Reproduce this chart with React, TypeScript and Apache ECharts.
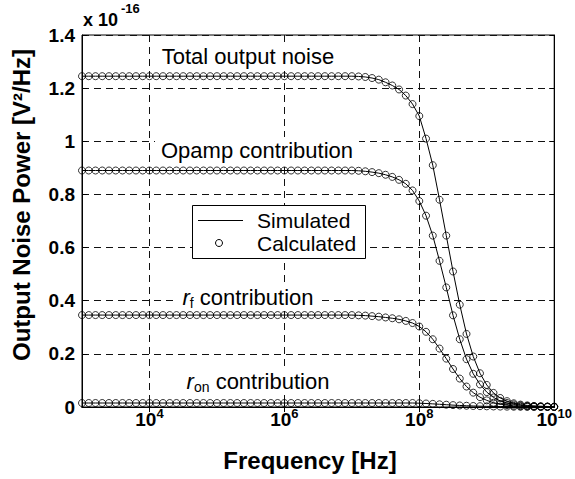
import React, { useEffect, useRef } from 'react';
import * as echarts from 'echarts';

const FONT = '"Liberation Sans", Arial, Helvetica, sans-serif';

// log10 of frequency (Hz) at each calculated point
const freqExponents = [
  3.0, 3.1, 3.2, 3.3, 3.4, 3.5, 3.6, 3.7, 3.8, 3.9,
  4.0, 4.1, 4.2, 4.3, 4.4, 4.5, 4.6, 4.7, 4.8, 4.9,
  5.0, 5.1, 5.2, 5.3, 5.4, 5.5, 5.6, 5.7, 5.8, 5.9,
  6.0, 6.1, 6.2, 6.3, 6.4, 6.5, 6.6, 6.7, 6.8, 6.9,
  7.0, 7.1, 7.2, 7.3, 7.4, 7.5, 7.6, 7.7, 7.8, 7.9,
  8.0, 8.1, 8.2, 8.3, 8.4, 8.5, 8.6, 8.7, 8.8, 8.9,
  9.0, 9.1, 9.2, 9.3, 9.4, 9.5, 9.6, 9.7, 9.8, 9.9,
  10.0,
];

// Output noise power, units of 1e-16 V^2/Hz
const totalNoise = [
  1.245, 1.245, 1.245, 1.245, 1.245, 1.245, 1.245, 1.245, 1.245, 1.245,
  1.245, 1.245, 1.245, 1.245, 1.245, 1.245, 1.245, 1.245, 1.245, 1.245,
  1.245, 1.245, 1.245, 1.245, 1.245, 1.245, 1.245, 1.245, 1.245, 1.245,
  1.245, 1.245, 1.245, 1.245, 1.245, 1.245, 1.245, 1.245, 1.245, 1.245,
  1.245, 1.244, 1.242, 1.238, 1.232, 1.222, 1.21, 1.195, 1.172, 1.14,
  1.095, 1.01, 0.91, 0.78, 0.645, 0.51, 0.385, 0.275, 0.19, 0.127,
  0.083, 0.053, 0.034, 0.022, 0.014, 0.009, 0.006, 0.004, 0.003, 0.002,
  0.0015,
];

const opampNoise = [
  0.89, 0.89, 0.89, 0.89, 0.89, 0.89, 0.89, 0.89, 0.89, 0.89,
  0.89, 0.89, 0.89, 0.89, 0.89, 0.89, 0.89, 0.89, 0.89, 0.89,
  0.89, 0.89, 0.89, 0.89, 0.89, 0.89, 0.89, 0.89, 0.89, 0.89,
  0.89, 0.89, 0.89, 0.89, 0.89, 0.89, 0.89, 0.89, 0.89, 0.89,
  0.89, 0.889, 0.887, 0.884, 0.88, 0.874, 0.866, 0.855, 0.84, 0.815,
  0.775, 0.72, 0.645, 0.55, 0.45, 0.345, 0.255, 0.18, 0.125, 0.085,
  0.056, 0.036, 0.023, 0.015, 0.0095, 0.006, 0.004, 0.0026, 0.0017, 0.0011,
  0.0007,
];

const rfNoise = [
  0.346, 0.346, 0.346, 0.346, 0.346, 0.346, 0.346, 0.346, 0.346, 0.346,
  0.346, 0.346, 0.346, 0.346, 0.346, 0.346, 0.346, 0.346, 0.346, 0.346,
  0.346, 0.346, 0.346, 0.346, 0.346, 0.346, 0.346, 0.346, 0.346, 0.346,
  0.346, 0.346, 0.346, 0.346, 0.346, 0.346, 0.346, 0.346, 0.346, 0.346,
  0.346, 0.345, 0.344, 0.342, 0.34, 0.337, 0.334, 0.33, 0.324, 0.316,
  0.303, 0.283, 0.255, 0.22, 0.182, 0.143, 0.107, 0.077, 0.054, 0.037,
  0.025, 0.016, 0.011, 0.007, 0.0045, 0.003, 0.002, 0.0013, 0.0008, 0.0005,
  0.0003,
];

const ronNoise = [
  0.015, 0.015, 0.015, 0.015, 0.015, 0.015, 0.015, 0.015, 0.015, 0.015,
  0.015, 0.015, 0.015, 0.015, 0.015, 0.015, 0.015, 0.015, 0.015, 0.015,
  0.015, 0.015, 0.015, 0.015, 0.015, 0.015, 0.015, 0.015, 0.015, 0.015,
  0.015, 0.015, 0.015, 0.015, 0.015, 0.015, 0.015, 0.015, 0.015, 0.015,
  0.015, 0.015, 0.015, 0.015, 0.015, 0.015, 0.015, 0.015, 0.015, 0.015,
  0.0143, 0.0132, 0.0118, 0.0102, 0.0086, 0.0071, 0.0058, 0.0047, 0.0038, 0.0031,
  0.0025, 0.002, 0.0016, 0.0013, 0.001, 0.0008, 0.0006, 0.0005, 0.0004, 0.0003,
  0.0002,
];

const xTickExponents = [4, 6, 8, 10];
const xInnerTopTicks = [4, 6, 8];

export default function App() {
  const ref = useRef<HTMLDivElement>(null);

  useEffect(() => {
    if (!ref.current) return;
    const chart = echarts.init(ref.current, null, { renderer: 'svg' });

    const curves = [totalNoise, opampNoise, rfNoise, ronNoise];
    const series: any[] = [];
    curves.forEach((vals, k) => {
      const data = freqExponents.map((e, i) => [e, vals[i]]);
      series.push({
        type: 'line',
        name: 'Simulated',
        id: 'sim' + k,
        data,
        symbol: 'none',
        showSymbol: false,
        lineStyle: { color: '#000', width: 1 },
        silent: true,
        z: 3,
      });
      series.push({
        type: 'scatter',
        name: 'Calculated',
        id: 'calc' + k,
        data,
        symbol: 'circle',
        symbolSize: 7,
        itemStyle: { color: 'rgba(0,0,0,0)', borderColor: '#000', borderWidth: 1 },
        z: 4,
      });
    });

    const textBase = {
      fontFamily: FONT,
      fontSize: 22,
      fill: '#000',
    };

    const richSub = {
      i: { fontSize: 22, fontStyle: 'italic', fontFamily: FONT, fill: '#000', lineHeight: 26, verticalAlign: 'middle' },
      sub: { fontSize: 14, fontFamily: FONT, fill: '#000', lineHeight: 10, verticalAlign: 'bottom' },
      n: { fontSize: 22, fontFamily: FONT, fill: '#000', lineHeight: 26, verticalAlign: 'middle' },
    };

    const option: any = {
      animation: false,
      backgroundColor: '#fff',
      textStyle: { fontFamily: FONT },
      grid: {
        left: 82,
        top: 35,
        right: 17,
        bottom: 72,
        show: true,
        borderColor: '#000',
        borderWidth: 1,
        backgroundColor: 'transparent',
      },
      xAxis: [
        {
          type: 'value',
          min: 3,
          max: 10,
          interval: 1,
          position: 'bottom',
          axisLine: { show: true, lineStyle: { color: '#000', width: 1 } },
          axisTick: {
            show: true,
            inside: true,
            length: 5,
            customValues: xTickExponents,
            lineStyle: { color: '#000' },
          },
          axisLabel: {
            show: true,
            customValues: xTickExponents,
            margin: 0,
            formatter: (v: number) => `{b|10}{s|${v}}`,
            rich: {
              b: {
                fontSize: 19,
                fontWeight: 'bold',
                fontFamily: FONT,
                color: '#000',
                lineHeight: 22,
                padding: [5, 0, 0, 0],
                verticalAlign: 'bottom',
              },
              s: {
                fontSize: 13,
                fontWeight: 'bold',
                fontFamily: FONT,
                color: '#000',
                lineHeight: 13,
                verticalAlign: 'top',
              },
            },
          },
          splitLine: {
            show: true,
            lineStyle: { color: '#111', width: 1, type: [7, 5] },
          },
        },
        {
          type: 'value',
          min: 3,
          max: 10,
          interval: 1,
          position: 'top',
          axisLine: { show: true, lineStyle: { color: '#000', width: 1 } },
          axisTick: {
            show: true,
            inside: true,
            length: 5,
            customValues: xInnerTopTicks,
            lineStyle: { color: '#000' },
          },
          axisLabel: { show: false },
          splitLine: { show: false },
        },
      ],
      yAxis: [
        {
          type: 'value',
          min: 0,
          max: 1.4,
          interval: 0.2,
          position: 'left',
          axisLine: { show: true, lineStyle: { color: '#000', width: 1 } },
          axisTick: { show: true, inside: true, length: 5, lineStyle: { color: '#000' } },
          axisLabel: {
            fontSize: 19,
            fontWeight: 'bold',
            color: '#000',
            margin: 7,
            fontFamily: FONT,
          },
          splitLine: {
            show: true,
            lineStyle: { color: '#111', width: 1, type: [7, 5] },
          },
        },
        {
          type: 'value',
          min: 0,
          max: 1.4,
          interval: 0.2,
          position: 'right',
          axisLine: { show: true, lineStyle: { color: '#000', width: 1 } },
          axisTick: { show: true, inside: true, length: 5, lineStyle: { color: '#000' } },
          axisLabel: { show: false },
          splitLine: { show: false },
        },
      ],
      series,
      graphic: [
        // exponent multiplier
        {
          type: 'text',
          z: 100,
          style: { ...textBase, text: 'x 10', x: 83, y: 20, fontSize: 18, fontWeight: 'bold', verticalAlign: 'middle' },
        },
        {
          type: 'text',
          z: 100,
          style: { ...textBase, text: '-16', x: 121, y: 8, fontSize: 13, fontWeight: 'bold', verticalAlign: 'middle' },
        },
        // axis titles
        {
          type: 'text',
          z: 100,
          x: 21,
          y: 205,
          rotation: Math.PI / 2,
          style: {
            ...textBase,
            text: 'Output Noise Power [V²/Hz]',
            fontSize: 24,
            fontWeight: 'bold',
            align: 'center',
            verticalAlign: 'middle',
          },
        },
        {
          type: 'text',
          z: 100,
          style: {
            ...textBase,
            text: 'Frequency [Hz]',
            x: 310,
            y: 460,
            fontSize: 24,
            fontWeight: 'bold',
            align: 'center',
            verticalAlign: 'middle',
          },
        },
        // curve annotations
        {
          type: 'text',
          z: 100,
          style: {
            ...textBase,
            text: 'Total output noise',
            x: 248,
            y: 56,
            align: 'center',
            verticalAlign: 'middle',
            backgroundColor: '#fff',
            padding: [2, 6],
          },
        },
        {
          type: 'text',
          z: 100,
          style: {
            ...textBase,
            text: 'Opamp contribution',
            x: 257,
            y: 150,
            align: 'center',
            verticalAlign: 'middle',
            backgroundColor: '#fff',
            padding: [2, 6],
          },
        },
        {
          type: 'text',
          z: 100,
          style: {
            ...textBase,
            text: '{i|r}{sub|f}{n| contribution}',
            x: 248,
            y: 297,
            align: 'center',
            verticalAlign: 'middle',
            backgroundColor: '#fff',
            padding: [0, 6],
            rich: richSub,
          },
        },
        {
          type: 'text',
          z: 100,
          style: {
            ...textBase,
            text: '{i|r}{sub|on}{n| contribution}',
            x: 258,
            y: 381,
            align: 'center',
            verticalAlign: 'middle',
            backgroundColor: '#fff',
            padding: [0, 6],
            rich: richSub,
          },
        },
        // legend
        {
          type: 'rect',
          z: 100,
          shape: { x: 192.5, y: 205.5, width: 173, height: 53 },
          style: { fill: '#fff', stroke: '#000', lineWidth: 1 },
        },
        {
          type: 'line',
          z: 101,
          shape: { x1: 198, y1: 220.5, x2: 243, y2: 220.5 },
          style: { stroke: '#000', lineWidth: 1 },
        },
        {
          type: 'circle',
          z: 101,
          shape: { cx: 219, cy: 243, r: 3.5 },
          style: { fill: 'none', stroke: '#000', lineWidth: 1 },
        },
        {
          type: 'text',
          z: 101,
          style: { ...textBase, fontSize: 21, text: 'Simulated', x: 257, y: 220, verticalAlign: 'middle' },
        },
        {
          type: 'text',
          z: 101,
          style: { ...textBase, fontSize: 21, text: 'Calculated', x: 257, y: 243, verticalAlign: 'middle' },
        },
      ],
    };

    chart.setOption(option);
    return () => {
      chart.dispose();
    };
  }, []);

  return (
    <div
      ref={ref}
      style={{ position: 'absolute', left: 0, top: 0, width: 575, height: 479 }}
    />
  );
}
